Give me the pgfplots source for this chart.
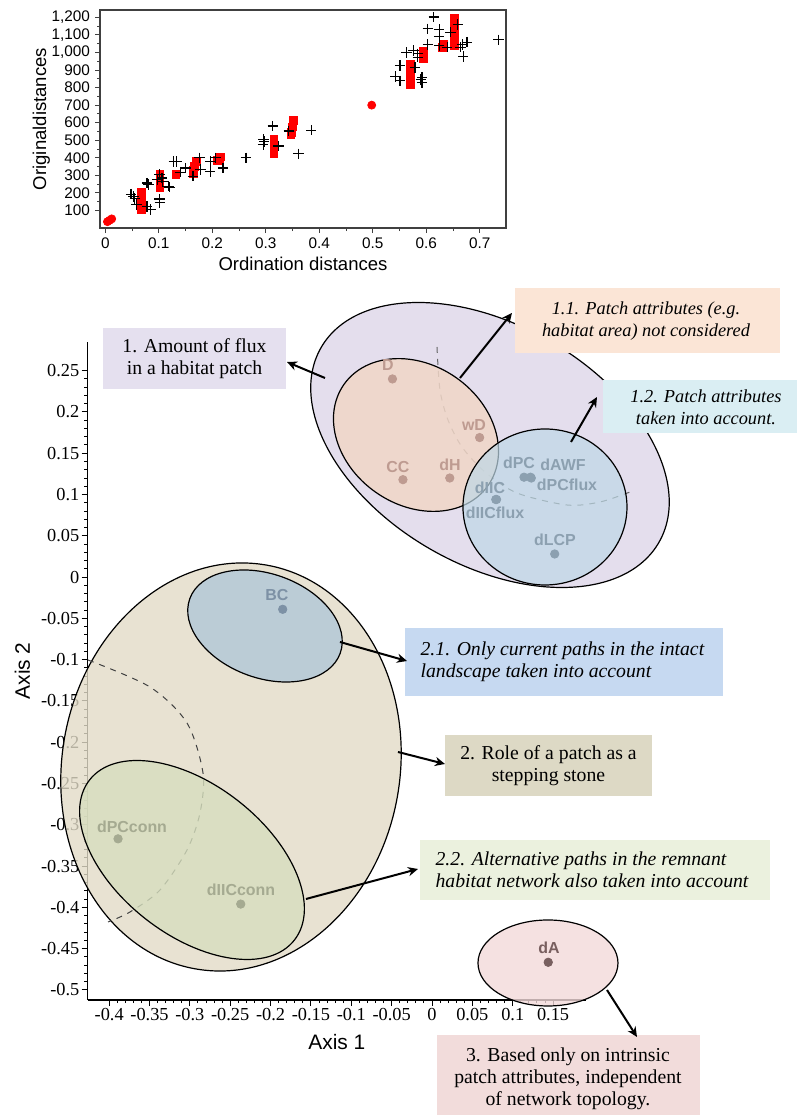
\documentclass[border=0pt]{standalone}
\usepackage{pgfplots}
\pgfplotsset{compat=1.18}
\usepackage{fontspec}
\setmainfont{Liberation Serif}
\newfontfamily\arial{Liberation Sans}
\usetikzlibrary{arrows.meta}

% fills of the groups and of their caption boxes
\definecolor{fluxell}{RGB}{228,222,237}
\definecolor{fluxbox}{RGB}{229,224,239}
\definecolor{peachell}{RGB}{240,214,199}
\definecolor{peachbox}{RGB}{251,229,214}
\definecolor{cyanell}{RGB}{190,216,230}
\definecolor{cyanbox}{RGB}{218,238,243}
\definecolor{beigeell}{RGB}{226,219,199}
\definecolor{beigebox}{RGB}{221,217,197}
\definecolor{bcell}{RGB}{180,200,216}
\definecolor{bcbox}{RGB}{198,217,241}
\definecolor{greenell}{RGB}{214,222,190}
\definecolor{greenbox}{RGB}{235,241,222}
\definecolor{roseell}{RGB}{242,217,217}
\definecolor{rosebox}{RGB}{242,220,219}
% point colours
\definecolor{ptpeach}{RGB}{190,155,145}
\definecolor{ptblue}{RGB}{140,160,176}
\definecolor{ptbc}{RGB}{125,145,165}
\definecolor{ptgreen}{RGB}{165,170,145}
\definecolor{ptrose}{RGB}{120,95,95}

\newcommand{\boxfont}{\fontsize{9.9}{10.9}\selectfont}
\newcommand{\smallboxfont}{\fontsize{9.2}{10.9}\selectfont}
\newcommand{\ptfont}{\arial\bfseries\fontsize{8}{9}\selectfont}

\begin{document}
\begin{tikzpicture}
\path[use as bounding box] (0,0) rectangle (400bp,-557.5bp);

%% ---------- Shepard diagram ----------
\begin{axis}[
  at={(50bp,-114bp)}, anchor=south west, scale only axis,
  width=203bp, height=109bp,
  xmin=-0.0099, xmax=0.749, ymin=0, ymax=1242,
  xtick={0,0.1,0.2,0.3,0.4,0.5,0.6,0.7},
  ytick={100,200,300,400,500,600,700,800,900,1000,1100,1200},
  minor x tick num=1, minor y tick num=1,
  tick align=outside, xtick pos=bottom, ytick pos=left,
  major tick length=2.5bp, minor tick length=1.5bp,
  axis line style={line width=0.8bp, black!75},
  every tick/.style={black!75, line width=0.5bp},
  /pgf/number format/assume math mode=true,
  /pgf/number format/1000 sep={,},
  tick label style={font=\arial\fontsize{7.7}{8}\selectfont},
  xticklabel style={yshift=1bp},
  yticklabel style={xshift=1bp},
  xlabel={Ordination distances}, ylabel={Originaldistances},
  label style={font=\arial\fontsize{9.3}{10}\selectfont},
  xlabel style={yshift=3bp},
  ylabel style={yshift=-6bp},
]
% red: fitted (monotone) distances
\addplot[only marks, mark=square*, mark size=1.9bp, red, mark options={draw=red}] coordinates {
 (0.067,105) (0.067,125) (0.067,145) (0.067,165) (0.067,185) (0.067,205)
 (0.102,230) (0.102,250) (0.102,270) (0.102,290) (0.102,305)
 (0.132,305)
 (0.165,310) (0.165,330) (0.166,350) (0.170,378)
 (0.210,385) (0.213,395) (0.215,405)
 (0.315,425) (0.315,457) (0.315,480) (0.315,505)
 (0.347,530) (0.348,545) (0.349,560) (0.350,575) (0.351,592) (0.352,612)
 (0.570,815) (0.570,835) (0.570,850) (0.570,868) (0.570,885) (0.570,905) (0.570,925) (0.570,935)
 (0.595,965) (0.595,985) (0.595,1005)
 (0.630,1030) (0.633,1045)
 (0.652,1040) (0.652,1060) (0.652,1080) (0.652,1100) (0.652,1120) (0.652,1140) (0.652,1160) (0.652,1196)
};
\addplot[only marks, mark=*, mark size=2bp, red] coordinates {
 (0.004,36) (0.008,44) (0.012,52) (0.498,700)
};
% black: observed distances
\addplot[only marks, mark=+, mark size=2.6bp, black, mark options={line width=0.6bp}] coordinates {
 (0.048,193) (0.053,180) (0.055,168) (0.058,133)
 (0.078,123) (0.085,106) (0.078,256) (0.081,248)
 (0.101,305) (0.097,276) (0.107,266) (0.106,285) (0.101,165) (0.102,146)
 (0.118,238) (0.120,232)
 (0.128,379) (0.133,379) (0.140,318) (0.150,342)
 (0.164,295) (0.176,400) (0.178,333)
 (0.196,323) (0.197,381) (0.206,400) (0.220,342) (0.263,400)
 (0.295,476) (0.296,505) (0.297,492) (0.313,581) (0.324,467)
 (0.343,553) (0.361,423) (0.385,557)
 (0.542,864) (0.551,925) (0.551,839) (0.563,1001) (0.576,1011) (0.579,915)
 (0.584,992) (0.584,973) (0.590,845) (0.592,858) (0.592,829)
 (0.603,1135) (0.603,1045) (0.614,1202) (0.624,1130) (0.624,1093) (0.624,1040)
 (0.639,1030) (0.645,1116) (0.659,1160) (0.664,1030) (0.667,1045) (0.669,977)
 (0.676,1059) (0.735,1072)
};
\end{axis}

%% ---------- Ordination: axes ----------
\begin{axis}[
  at={(43.85bp,-500bp)}, anchor=south west, scale only axis,
  width=249.15bp, height=329.15bp,
  xmin=-0.4266, xmax=0.1908, ymin=-0.5122, ymax=0.2851,
  axis lines*=left,
  axis line style={line width=0.6bp, black},
  tick align=outside,
  major tick length=3bp, minor tick length=1.6bp,
  every tick/.style={black, line width=0.5bp},
  minor x tick num=4, minor y tick num=4,
  xtick={-0.4,-0.35,-0.3,-0.25,-0.2,-0.15,-0.1,-0.05,0,0.05,0.1,0.15},
  xticklabels={-0.4,-0.35,-0.3,-0.25,-0.2,-0.15,-0.1,-0.05,0,0.05,0.1,0.15},
  ytick={-0.5,-0.45,-0.4,-0.35,-0.3,-0.25,-0.2,-0.15,-0.1,-0.05,0,0.05,0.1,0.15,0.2,0.25},
  yticklabels={-0.5,-0.45,-0.4,-0.35,-0.3,-0.25,-0.2,-0.15,-0.1,-0.05,0,0.05,0.1,0.15,0.2,0.25},
  tick label style={font=\fontsize{9.2}{10}\selectfont},
  xticklabel style={inner sep=1bp},
  yticklabel style={inner sep=1bp},
  xlabel={Axis 1}, ylabel={Axis 2},
  label style={font=\arial\fontsize{10.5}{11}\selectfont},
  xlabel style={yshift=-2bp},
  ylabel style={yshift=1bp},
]
\end{axis}

%% ---------- groups, captions and arrows ----------
\begin{scope}[x=0.5bp,y=-0.5bp, line width=0.6bp]
% group 1: flux
\filldraw[fill=fluxell, rotate around={-30:(490,445)}] (490,445) ellipse [x radius=195, y radius=120];
\draw[dashed, black!60, line width=0.5bp] plot[smooth] coordinates
  {(437,347) (440,390) (448,420) (462,447) (485,472) (517,493) (567,505) (600,502) (630,492)};
\filldraw[fill=peachell, fill opacity=0.85, rotate around={-35:(416,435)}] (416,435) ellipse [x radius=88, y radius=70];
\filldraw[fill=cyanell, fill opacity=0.7] (545,507) ellipse [x radius=82, y radius=78];

% group 2: stepping stone
\filldraw[fill=beigeell, fill opacity=0.8, rotate around={-10:(231,767)}] (231,767) ellipse [x radius=169, y radius=205];
\draw[dashed, black!75, line width=0.5bp] plot[smooth] coordinates
  {(88,660) (150,687) (187,723) (203,773) (200,813) (187,850) (160,890) (130,912) (108,922)};
\filldraw[fill=bcell, fill opacity=0.85, rotate around={-20:(265,626)}] (265,626) ellipse [x radius=80, y radius=52];
\filldraw[fill=greenell, fill opacity=0.8, rotate around={-38:(192,860)}] (192,860) ellipse [x radius=130, y radius=75];

% group 3: intrinsic
\filldraw[fill=roseell, fill opacity=0.8] (548,963) ellipse [x radius=70, y radius=43];

% caption boxes
\fill[fluxbox] (103,328) rectangle (286,389);
\node[align=center, font=\boxfont] at (194.5,359) {1. Amount of flux\\in a habitat patch};
\fill[peachbox] (515,288) rectangle (780,353);
\node[align=center, font=\smallboxfont\itshape] at (646,321) {1.1. Patch attributes (e.g.\\habitat area) not considered};
\fill[cyanbox] (603,380) rectangle (797,433);
\node[align=center, font=\smallboxfont\itshape] at (706,407) {1.2. Patch attributes\\taken into account.};
\fill[bcbox] (405,628) rectangle (723,696);
\node[align=left, anchor=west, font=\boxfont\itshape, inner sep=0pt] at (420,662) {2.1. Only current paths in the intact\\landscape taken into account};
\fill[beigebox] (445,735) rectangle (652,796);
\node[align=center, font=\boxfont] at (548.5,766) {2. Role of a patch as a\\stepping stone};
\fill[greenbox] (420,840) rectangle (770,900);
\node[align=left, anchor=west, font=\boxfont\itshape, inner sep=0pt] at (435,870) {2.2. Alternative paths in the remnant\\habitat network also taken into account};
\fill[rosebox] (437,1035) rectangle (700,1130);
\node[align=center, font=\boxfont] at (568,1079) {3. Based only on intrinsic\\patch attributes, independent\\of network topology.};

% arrows from groups to captions
\begin{scope}[line width=1bp, -{Stealth[length=5bp, width=4.6bp]}]
\draw (325,378) -- (287,362);
\draw (460,378) -- (512,313);
\draw (571,442) -- (597,397);
\draw (340,642) -- (407,661);
\draw (398,752) -- (445,764);
\draw (306,899) -- (418,869);
\draw (607,990) -- (637,1037);
\end{scope}
\end{scope}

%% ---------- Ordination: indices ----------
\begin{axis}[
  at={(43.85bp,-500bp)}, anchor=south west, scale only axis,
  width=249.15bp, height=329.15bp,
  xmin=-0.4266, xmax=0.1908, ymin=-0.5122, ymax=0.2851,
  hide axis, clip=false,
]
\addplot[only marks, mark=*, mark size=2.1bp, ptpeach] coordinates {
 (-0.049,0.240) (0.059,0.169) (-0.036,0.118) (0.022,0.120)};
\addplot[only marks, mark=*, mark size=2.1bp, ptblue] coordinates {
 (0.114,0.121) (0.122,0.121) (0.123,0.120) (0.079,0.094) (0.080,0.094) (0.152,0.028)};
\addplot[only marks, mark=*, mark size=2.1bp, ptbc] coordinates {(-0.185,-0.039)};
\addplot[only marks, mark=*, mark size=2.1bp, ptgreen] coordinates {(-0.389,-0.317) (-0.237,-0.396)};
\addplot[only marks, mark=*, mark size=2.1bp, ptrose] coordinates {(0.144,-0.4665)};
\end{axis}

\begin{scope}[x=0.5bp,y=-0.5bp, font=\ptfont, inner sep=0pt]
\node[ptpeach] at (388,365) {D};
\node[ptpeach] at (474,425) {wD};
\node[ptpeach] at (398,467) {CC};
\node[ptpeach] at (450,465) {dH};
\node[ptblue] at (519,463) {dPC};
\node[ptblue] at (563,465) {dAWF};
\node[ptblue] at (567,485) {dPCflux};
\node[ptblue] at (490,488) {dIIC};
\node[ptblue] at (495,513) {dIICflux};
\node[ptblue] at (555,540) {dLCP};
\node[ptbc] at (277,595) {BC};
\node[ptgreen] at (132,827) {dPCconn};
\node[ptgreen] at (241,890) {dIICconn};
\node[ptrose] at (549,948) {dA};
\end{scope}
\end{tikzpicture}
\end{document}
